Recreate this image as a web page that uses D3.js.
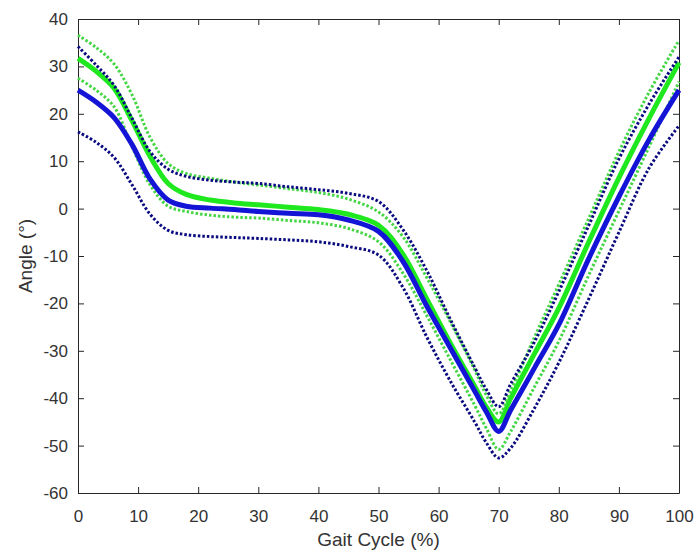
<!DOCTYPE html>
<html>
<head>
<meta charset="utf-8">
<script src="https://cdn.jsdelivr.net/npm/d3@7"></script>
<style>
    body { margin: 0; background: #fff; }
    .axis text { font-family: "Liberation Sans", Arial, sans-serif; font-size: 17px; fill: #333; }
    .axis path, .axis line { stroke: #262626; }
    .label { font-family: "Liberation Sans", Arial, sans-serif; font-size: 19px; fill: #333; }
</style>
</head>
<body>
<script>
//gait cycle samples (%)
var gait = [0, 3, 6, 9, 12, 15, 18, 22, 26, 30, 35, 40, 45, 50, 54, 58, 62, 66, 68, 70, 72, 76, 80, 85, 90, 95, 100];

//green group: mean and mean +/- sd
var greenMean = [31.7, 29, 25.4, 18.5, 11, 5.3, 3.0, 1.8, 1.2, 0.8, 0.3, -0.2, -1.2, -3.5, -9.5, -19, -28.5, -37.5, -42, -45, -40, -30.5, -21, -7, 6.5, 19, 30.8];
var greenUpper = [36.6, 34, 30.5, 24, 15, 9.5, 7.4, 6.4, 5.6, 5.0, 4.2, 3.4, 2.0, -0.7, -5.8, -14.5, -24, -34, -39.5, -43.3, -38.5, -27, -16, -2, 12, 24.5, 35.5];
var greenLower = [27.5, 25, 21.5, 13, 5, 0.5, -0.6, -1.4, -1.8, -2.0, -2.5, -3.0, -4.2, -7.0, -13.5, -22.5, -32, -41.5, -46.5, -50.8, -47, -37.5, -28, -14, -0.5, 13, 26.8];

//blue group: mean and mean +/- sd
var blueMean = [25, 22.5, 19.2, 13.5, 6.2, 1.8, 0.5, 0.1, -0.2, -0.6, -1.0, -1.3, -2.4, -4.8, -11, -20.5, -29.5, -38.5, -43, -47, -42.5, -33.5, -24.5, -10.5, 2.5, 14.5, 25];
var blueUpper = [34.2, 30.3, 26, 19, 12, 8.3, 6.8, 6.0, 5.6, 5.3, 4.6, 4.0, 3.2, 1.5, -4.3, -13, -23.5, -33.5, -38.3, -41.8, -37, -28, -17.5, -3.5, 10.5, 22, 32];
var blueLower = [16.2, 14, 10.8, 5, -1.2, -4.6, -5.5, -5.9, -6.1, -6.3, -6.6, -7.0, -8.0, -9.8, -16.5, -27, -36.5, -45, -49.5, -52.6, -50.5, -42, -32.5, -19, -5, 8.5, 17.5];

//tick values
var xTicks = [0, 10, 20, 30, 40, 50, 60, 70, 80, 90, 100];
var yTicks = [-60, -50, -40, -30, -20, -10, 0, 10, 20, 30, 40];

window.onload = drawChart();

function drawChart() {
    var width = 698,
        height = 556;
    var margin = {top: 19, right: 19, bottom: 63, left: 78};
    var w = width - margin.left - margin.right,
        h = height - margin.top - margin.bottom;

    var svg = d3.select("body")
        .append("svg")
        .attr("width", width)
        .attr("height", height);

    var g = svg.append("g")
        .attr("transform", "translate(" + margin.left + "," + margin.top + ")");

    var x = d3.scaleLinear().domain([0, 100]).range([0, w]);
    var y = d3.scaleLinear().domain([-60, 40]).range([h, 0]);

    //plain hyphen minus like matlab
    var fmt = function(d){ return String(d); };

    //box axes, ticks pointing inward
    g.append("g").attr("class", "axis")
        .attr("transform", "translate(0," + h + ")")
        .call(d3.axisBottom(x).tickValues(xTicks).tickFormat(fmt).tickSizeInner(-6).tickSizeOuter(0).tickPadding(17));
    g.append("g").attr("class", "axis")
        .call(d3.axisLeft(y).tickValues(yTicks).tickFormat(fmt).tickSizeInner(-6).tickSizeOuter(0).tickPadding(10));
    g.append("g").attr("class", "axis")
        .call(d3.axisTop(x).tickValues(xTicks).tickSizeInner(-6).tickSizeOuter(0).tickFormat(""));
    g.append("g").attr("class", "axis")
        .attr("transform", "translate(" + w + ",0)")
        .call(d3.axisRight(y).tickValues(yTicks).tickSizeInner(-6).tickSizeOuter(0).tickFormat(""));

    var line = d3.line()
        .x(function(d, i){ return x(gait[i]); })
        .y(function(d){ return y(d); })
        .curve(d3.curveCatmullRom.alpha(0.5));

    var series = [
        {values: greenMean, color: "#1fe81f", width: 5, dash: null},
        {values: greenUpper, color: "#45d645", width: 3, dash: "2.5,2"},
        {values: greenLower, color: "#45d645", width: 3, dash: "2.5,2"},
        {values: blueMean, color: "#1414d6", width: 5, dash: null},
        {values: blueUpper, color: "#0a0a80", width: 3, dash: "2.5,2"},
        {values: blueLower, color: "#0a0a80", width: 3, dash: "2.5,2"}
    ];

    g.selectAll(".series")
        .data(series)
        .enter()
        .append("path")
        .attr("class", "series")
        .attr("fill", "none")
        .attr("stroke", function(d){ return d.color; })
        .attr("stroke-width", function(d){ return d.width; })
        .attr("stroke-dasharray", function(d){ return d.dash; })
        .attr("d", function(d){ return line(d.values); });

    //axis titles
    svg.append("text")
        .attr("class", "label")
        .attr("x", margin.left + w / 2)
        .attr("y", 546)
        .attr("text-anchor", "middle")
        .text("Gait Cycle (%)");

    svg.append("text")
        .attr("class", "label")
        .attr("transform", "translate(32," + (margin.top + h / 2) + ") rotate(-90)")
        .attr("text-anchor", "middle")
        .text("Angle (°)");
}
</script>
</body>
</html>
